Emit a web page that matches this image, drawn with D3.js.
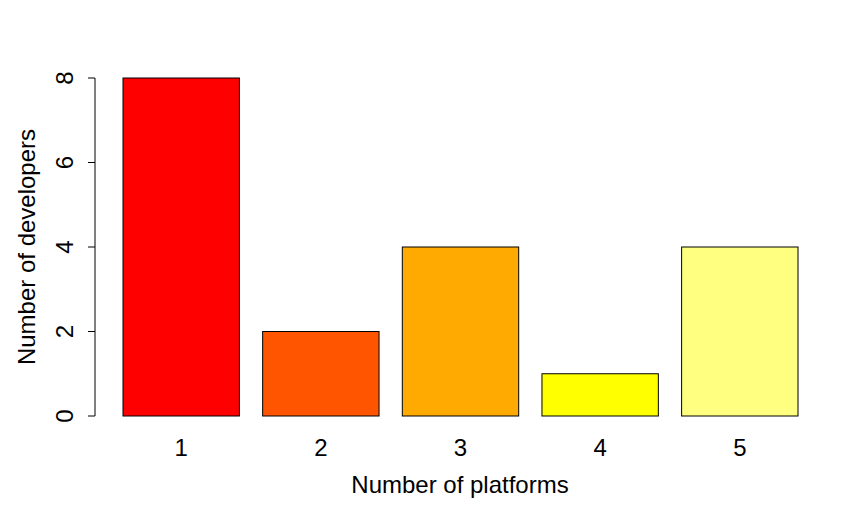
<!DOCTYPE html>
<html><head><meta charset="utf-8">
<script src="https://cdn.jsdelivr.net/npm/d3@7"></script>
<style>body{margin:0;background:#fff}text{font-family:"Liberation Sans",Arial,sans-serif;fill:#000}</style>
</head><body>
<svg id="c" width="866" height="518"></svg>
<script>
const categories = ["1", "2", "3", "4", "5"];
const developers = [8, 2, 4, 1, 4];
const colors = ["#FF0000", "#FF5500", "#FFAA00", "#FFFF00", "#FFFF80"];
const yTicks = [0, 2, 4, 6, 8];

const svg = d3.select("#c");
// R barplot: width 1, space 0.2
const x = d3.scaleLinear().domain([0.2, 6.0]).range([123, 798]);
const y = d3.scaleLinear().domain([0, 8]).range([416, 78]);
const bw = x(1) - x(0);

svg.selectAll("rect.bar").data(developers).join("rect")
  .attr("x", (d, i) => x(0.2 + 1.2 * i))
  .attr("y", d => y(d))
  .attr("width", bw)
  .attr("height", d => y(0) - y(d))
  .attr("fill", (d, i) => colors[i])
  .attr("stroke", "#000").attr("stroke-width", 1);

// x labels
svg.selectAll("text.xl").data(categories).join("text")
  .attr("x", (d, i) => x(0.7 + 1.2 * i))
  .attr("y", 456).attr("text-anchor", "middle").attr("font-size", 24)
  .text(d => d);

// y axis
const ax = 95;
svg.append("line").attr("x1", ax).attr("x2", ax).attr("y1", y(8)).attr("y2", y(0)).attr("stroke", "#000");
svg.selectAll("line.yt").data(yTicks).join("line")
  .attr("x1", ax - 7).attr("x2", ax).attr("y1", d => y(d)).attr("y2", d => y(d)).attr("stroke", "#000");
svg.selectAll("text.yl").data(yTicks).join("text")
  .attr("transform", d => `translate(73,${y(d)}) rotate(-90)`)
  .attr("text-anchor", "middle").attr("font-size", 24)
  .text(d => d);

svg.append("text").attr("x", 460).attr("y", 493).attr("text-anchor", "middle")
  .attr("font-size", 24).text("Number of platforms");
svg.append("text").attr("transform", "translate(35,247) rotate(-90)")
  .attr("text-anchor", "middle").attr("font-size", 24).text("Number of developers");
</script>
</body></html>
